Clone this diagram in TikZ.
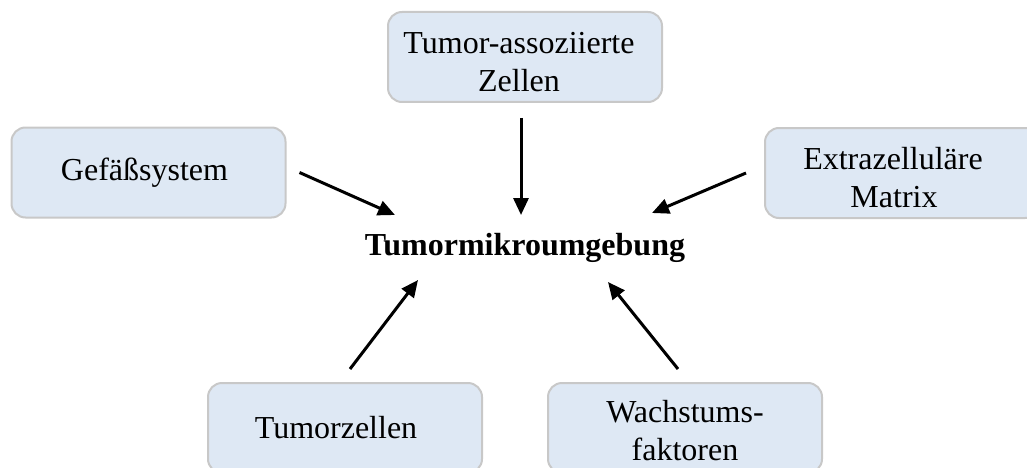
\documentclass[tikz,border=0pt]{standalone}
\usepackage{fontspec}
\setmainfont{Liberation Serif}
\usetikzlibrary{arrows.meta}
\definecolor{boxfill}{HTML}{DEE8F4}
\definecolor{boxline}{HTML}{C8C8C8}
\newcommand\tallstrut[1]{\rule{0pt}{#1}}
\begin{document}
\begin{tikzpicture}[x=1pt,y=-1pt,
  topic/.style={draw=boxline, line width=2pt, fill=boxfill, rounded corners=14pt,
    minimum width=274pt, minimum height=90pt, align=center, inner sep=0pt,
    font=\fontsize{32}{38}\selectfont},
  arr/.style={line width=3pt, -{Triangle[length=17pt,width=15pt]}}]
\useasboundingbox (0,0) rectangle (1027,468);
\node[topic] (t) at (525,57) {\tallstrut{31pt}Tumor-assoziierte\hspace*{12pt}\\Zellen\hspace*{12pt}};
\node[topic] (g) at (148.5,172.5) {Gefäßsystem\hspace*{8pt}};
\node[topic] (e) at (902,173) {\tallstrut{31pt}Extrazelluläre\hspace*{18pt}\\Matrix\hspace*{16pt}};
\node[topic] (tz) at (345,428) {Tumorzellen\hspace*{18pt}};
\node[topic] (w) at (685,428) {\tallstrut{28pt}Wachstums-\\faktoren};
\node[font=\fontsize{32}{38}\selectfont\bfseries] (c) at (525,248) {Tumormikroumgebung};
\coordinate (tipG) at (395,215);
\coordinate (tipT) at (521,215);
\coordinate (tipE) at (652,213);
\coordinate (tipTZ) at (418,280);
\coordinate (tipW) at (608,282);
\draw[arr] ([xshift=13pt]g.east) -- (tipG);
\draw[arr] ([shift={(-4pt,-15pt)}]t.south) -- (tipT);
\draw[arr] ([xshift=-18pt]e.west) -- (tipE);
\draw[arr] ([shift={(5pt,13pt)}]tz.north) -- (tipTZ);
\draw[arr] ([shift={(-7pt,13pt)}]w.north) -- (tipW);
\end{tikzpicture}
\end{document}
